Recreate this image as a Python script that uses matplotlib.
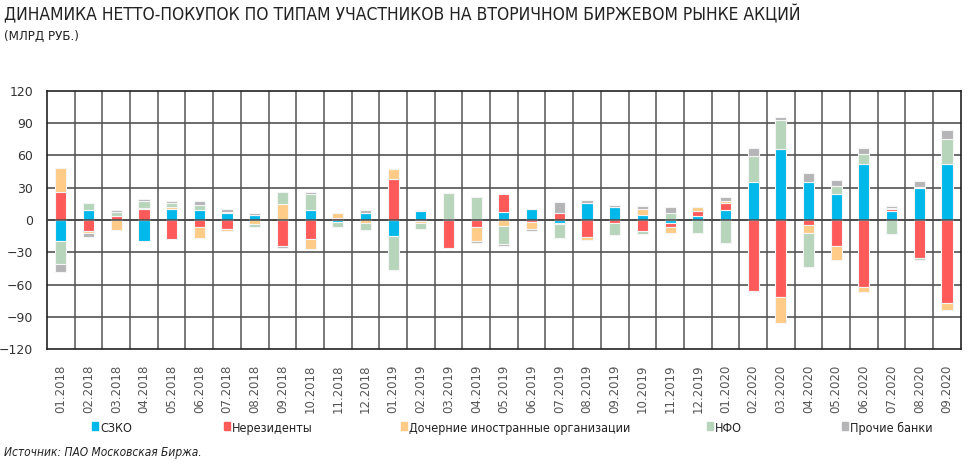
import matplotlib
matplotlib.use('Agg')
from matplotlib import pyplot as plt
from matplotlib import font_manager
from matplotlib.patches import Rectangle
import numpy as np

# Months (x axis)
months = ['01.2018', '02.2018', '03.2018', '04.2018', '05.2018', '06.2018',
          '07.2018', '08.2018', '09.2018', '10.2018', '11.2018', '12.2018',
          '01.2019', '02.2019', '03.2019', '04.2019', '05.2019', '06.2019',
          '07.2019', '08.2019', '09.2019', '10.2019', '11.2019', '12.2019',
          '01.2020', '02.2020', '03.2020', '04.2020', '05.2020', '06.2020',
          '07.2020', '08.2020', '09.2020']

# Net purchases, bln RUB
szko = [-19.5, 9.3, 0, -19.5, 10.5, 9.3, 6.5, 5, 0, 9.3, -1.5, 6.5,
        -14.8, 8, 0, 0, 7.7, 10.2, -2.5, 15.5, 12.4, 4.6, -3.1, 4,
        9.3, 35.6, 65.6, 35.6, 24.1, 52.3, 8.7, 30, 52.3]
nonres = [26, -10, 3.7, 10.5, -17.6, -6.8, -8.4, 0, -24, -18, 2.2, 0,
          37.7, -1.2, -25.7, -6.5, 16.7, -1.9, 6.2, -15.5, -2.5, -10, -3.1, 4.3,
          6.8, -66.2, -71.8, -4.3, -24.1, -62.5, 1.5, -35.6, -76.7]
subsid = [22, -2, -9, 1, 1.5, -10.2, -1.5, -3.7, 15.2, -8.7, 4.3, -2.8,
          9.3, -2, 1, -13.3, -5.3, -6.8, -1.5, -3.4, 0, 5.6, -5.9, 3.7,
          1.2, -0.6, -23.5, -8, -12.7, -4.3, 0.5, 0.9, -6.8]
nfo = [-21.5, 6, 3.7, 6.2, 3.7, 4.6, 0.8, -2.5, 11.1, 14.5, -4.6, -6.5,
       -32, -5.3, 24, 21, -17.3, 0, -13, 0, -11.4, -3, 6.5, -11.8,
       -21.7, 23.8, 27.2, -31.2, 7.1, 9, -13.3, -1.2, 22.6]
other = [-7, -3.8, 1.9, 1.9, 1.9, 3.4, 2.8, 1.2, -2.5, 2.5, 0, 2.8,
         0, 1.2, 0, -1.2, -1.5, -1.5, 10.8, 3.4, 1.5, 2.5, 5.9, 0,
         4.3, 7.4, 2.8, 8, 5.9, 5.6, 2.3, 5.6, 9]

labels = ['СЗКО', 'Нерезиденты', 'Дочерние иностранные организации', 'НФО', 'Прочие банки']
colors = ['#00b8ea', '#ff5a5a', '#ffcb86', '#b7d5bb', '#b5b5b7']


# look for a narrow font among the installed ones
def narrow_font(italic=False):
    best = None
    for f in font_manager.fontManager.ttflist:
        name = f.name.lower()
        is_narrow = ('condensed' in str(f.stretch) or 'narrow' in name or 'condensed' in name
                     or 'narrow' in f.fname.lower() or 'condensed' in f.fname.lower())
        if not is_narrow:
            continue
        if (f.style != 'normal') != italic:
            continue
        if f.weight not in (400, 'normal', 'regular'):
            continue
        best = f.fname
        break
    if best:
        return font_manager.FontProperties(fname=best)
    return font_manager.FontProperties(family='DejaVu Sans', stretch='condensed',
                                       style='italic' if italic else 'normal')


fp = narrow_font()
fpi = narrow_font(italic=True)

fig = plt.figure(figsize=(9.68, 4.65), dpi=100)
ax = fig.add_axes([0.0486, 0.249, 0.944, 0.556])

x = np.arange(len(months))
pos_bottom = np.zeros(len(months))
neg_bottom = np.zeros(len(months))
for vals, color in zip([szko, nonres, subsid, nfo, other], colors):
    v = np.array(vals, dtype=float)
    bottom = np.where(v >= 0, pos_bottom, neg_bottom)
    ax.bar(x, v, width=0.4, bottom=bottom, color=color,
           edgecolor='#f4f4f4', linewidth=0.8, zorder=2)
    pos_bottom += np.clip(v, 0, None)
    neg_bottom += np.clip(v, None, 0)

ax.set_xlim(-0.5, len(months) - 0.5)
ax.set_ylim(-120, 120)
ax.set_yticks(np.arange(-120, 121, 30))
ax.set_xticks(x)
ax.set_xticklabels(months, rotation=90, fontsize=8.5, color='#555555')
ax.tick_params(axis='y', labelsize=9, labelcolor='#333333', length=0, pad=10)
ax.tick_params(axis='x', length=0, pad=11)

# grid: horizontal at ticks, vertical at category borders
for yv in np.arange(-90, 91, 30):
    ax.axhline(yv, color='#444444', linewidth=1.1, zorder=1)
ax.axhline(0, color='#444444', linewidth=1.1, zorder=3)
for xv in np.arange(0.5, len(months) - 0.5, 1):
    ax.axvline(xv, color='#555555', linewidth=1.1, zorder=1)
for s in ax.spines.values():
    s.set_color('#222222')
    s.set_linewidth(1.2)

fig.text(0.004, 0.968, 'ДИНАМИКА НЕТТО-ПОКУПОК ПО ТИПАМ УЧАСТНИКОВ НА ВТОРИЧНОМ БИРЖЕВОМ РЫНКЕ АКЦИЙ',
         fontproperties=fp, fontsize=12.5, color='#222222', va='center')
fig.text(0.004, 0.922, '(МЛРД РУБ.)', fontproperties=fp, fontsize=9.5,
         color='#222222', va='center')

# legend
leg_x = [0.1035, 0.2395, 0.4225, 0.739, 0.878]
for lx, lab, col in zip(leg_x, labels, colors):
    fig.patches.append(Rectangle((lx - 0.0085, 0.0755), 0.0062, 0.018,
                                 transform=fig.transFigure, color=col))
    fig.text(lx, 0.078, lab, fontproperties=fp, fontsize=9,
             color='#222222', va='center')

fig.text(0.004, 0.026, 'Источник: ПАО Московская Биржа.', fontproperties=fpi, fontsize=8.6,
         color='#222222', va='center')

fig.savefig('out.png', dpi=100)
